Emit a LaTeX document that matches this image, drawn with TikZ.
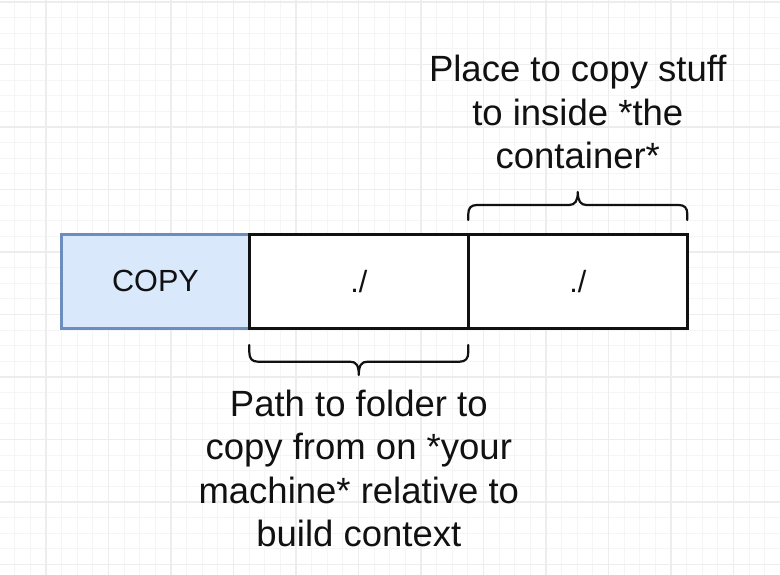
\documentclass[tikz,border=0pt]{standalone}
\usepackage{fontspec}
\setmainfont{Liberation Sans}
\definecolor{gridminor}{HTML}{F5F5F5}
\definecolor{gridmajor}{HTML}{EDEDED}
\definecolor{blueline}{HTML}{6C8EBF}
\definecolor{bluefill}{HTML}{DAE8FC}
\definecolor{ink}{HTML}{111111}
\tikzset{
  boxbase/.style={rectangle, inner sep=0pt, minimum height=94pt, line width=2.6pt,
    font=\fontsize{30.6}{36}\selectfont, text=ink},
  copybox/.style={boxbase, draw=blueline, fill=bluefill, minimum width=187.6pt},
  pathbox/.style={boxbase, draw=ink, fill=white, minimum width=219pt},
  bracepath/.style={draw=ink, line width=2.2pt, line cap=round, line join=round},
  labeltext/.style={inner sep=0pt, align=center, anchor=north, text=ink,
    font=\fontsize{36.5}{43.5}\selectfont}
}
\begin{document}
\begin{tikzpicture}[x=1pt,y=-1pt]
\useasboundingbox (0,0) rectangle (780,575);
\fill[white] (0,0) rectangle (780,575);
\begin{scope}
\clip (0,0) rectangle (780,575);
% minor grid
\foreach \k in {-3,...,47} {
  \draw[gridminor, line width=1pt] ({46.1+15.625*\k},0) -- ({46.1+15.625*\k},575);
}
\foreach \k in {0,...,37} {
  \draw[gridminor, line width=1pt] (0,{1.9+15.625*\k}) -- (780,{1.9+15.625*\k});
}
% major grid
\foreach \k in {-1,...,12} {
  \draw[gridmajor, line width=1.3pt] ({46.1+62.5*\k},0) -- ({46.1+62.5*\k},575);
}
\foreach \k in {0,...,9} {
  \draw[gridmajor, line width=1.3pt] (0,{1.9+62.5*\k}) -- (780,{1.9+62.5*\k});
}
\end{scope}

% boxes
\node[copybox] (copy) at (155.5,281.3) {COPY};
\node[pathbox] (src) at (358.8,281.3) {./};
\node[pathbox] (dst) at (577.8,281.3) {./};

% top brace over dst
\draw[bracepath] (468.3,220) -- (468.3,214)
  .. controls (468.3,208) and (471,205) .. (477,205) -- (569,205)
  .. controls (575,205) and (577.8,201) .. (577.8,192)
  .. controls (577.8,201) and (580.6,205) .. (586.6,205) -- (678.6,205)
  .. controls (684.6,205) and (687.3,208) .. (687.3,214) -- (687.3,220);

% bottom brace under src
\draw[bracepath] (249.3,345) -- (249.3,352)
  .. controls (249.3,358.5) and (252,361.7) .. (258,361.7) -- (350,361.7)
  .. controls (356,361.7) and (358.8,365) .. (358.8,375)
  .. controls (358.8,365) and (361.6,361.7) .. (367.6,361.7) -- (459.6,361.7)
  .. controls (465.6,361.7) and (468.3,358.5) .. (468.3,352) -- (468.3,345);

% labels
\node[labeltext] (toplabel) at (577.8,55) {Place to copy stuff\\to inside *the\\container*};
\node[labeltext] (botlabel) at (358.8,389.5) {Path to folder to\\copy from on *your\\machine* relative to\\build context};
\end{tikzpicture}
\end{document}
